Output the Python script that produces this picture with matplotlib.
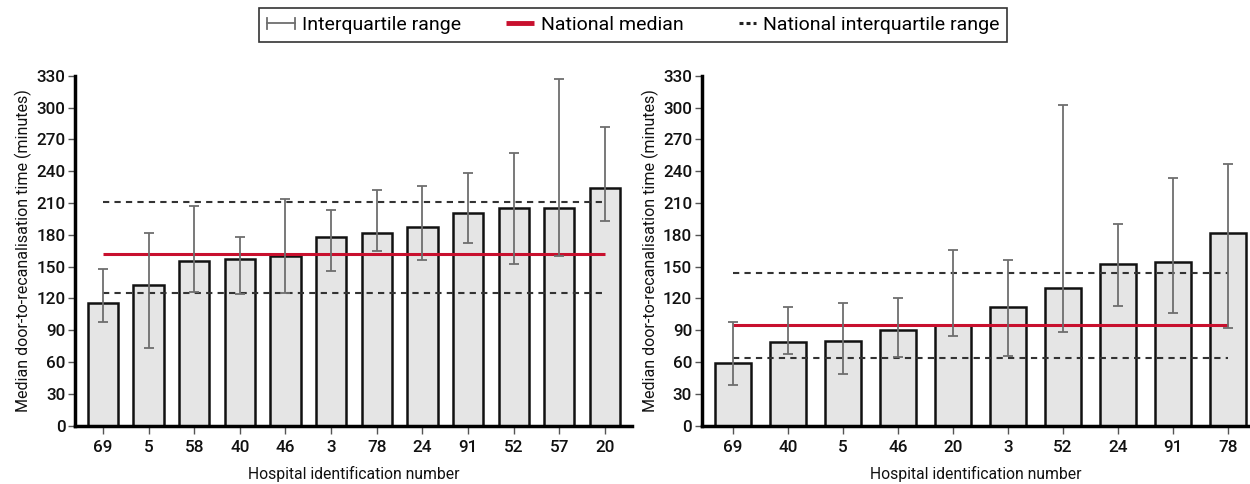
import matplotlib
matplotlib.use("Agg")
import matplotlib.pyplot as plt
from matplotlib.lines import Line2D
from matplotlib.legend_handler import HandlerBase
import numpy as np

plt.rcParams['font.family'] = ['Roboto', 'DejaVu Sans']

# Left panel
left_ids = ["69", "5", "58", "40", "46", "3", "78", "24", "91", "52", "57", "20"]
left_median = [116, 133, 155, 157, 160, 178, 182, 187, 201, 205, 205, 224]
left_q1 = [98, 73, 126, 124, 125, 146, 165, 156, 172, 152, 160, 193]
left_q3 = [148, 182, 207, 178, 214, 203, 222, 226, 238, 257, 327, 282]
left_nat_median = 162
left_nat_q1 = 125
left_nat_q3 = 211

# Right panel
right_ids = ["69", "40", "5", "46", "20", "3", "52", "24", "91", "78"]
right_median = [59, 79, 80, 90, 95, 112, 130, 152, 154, 182]
right_q1 = [38, 68, 49, 65, 85, 66, 88, 113, 106, 92]
right_q3 = [98, 112, 116, 120, 166, 156, 302, 190, 234, 247]
right_nat_median = 95
right_nat_q1 = 64
right_nat_q3 = 144

yticks = list(range(0, 331, 30))

RED = "#c8102e"
ERR = "#6e6e6e"
BARFILL = "#e5e5e5"

fig = plt.figure(figsize=(12.5, 4.84), dpi=100)
ax1 = fig.add_axes([0.060, 0.1205, 0.4456, 0.7231])
ax2 = fig.add_axes([0.5614, 0.1205, 0.4376, 0.7231])


def draw(ax, ids, med, q1, q3, nm, nq1, nq3, xlim):
    x = np.arange(len(ids))
    med = np.array(med)
    lo = med - np.array(q1)
    hi = np.array(q3) - med
    ax.bar(x, med, width=0.66, color=BARFILL, edgecolor="#111111", linewidth=1.8, zorder=2)
    ax.errorbar(x, med, yerr=[lo, hi], fmt="none", ecolor=ERR, elinewidth=1.3,
                capsize=3.5, capthick=1.3, zorder=4)
    ax.plot([x[0], x[-1]], [nm, nm], color=RED, lw=2.2, zorder=3, solid_capstyle="butt")
    for v in (nq1, nq3):
        ax.plot([x[0], x[-1]], [v, v], color="#333333", lw=1.5, ls=(0, (3, 2.5)), zorder=3)
    ax.set_xlim(*xlim)
    ax.set_ylim(0, 330)
    ax.set_yticks(yticks)
    ax.set_xticks(x)
    ax.set_xticklabels(ids)
    for s in ("top", "right"):
        ax.spines[s].set_visible(False)
    for s in ("left", "bottom"):
        ax.spines[s].set_linewidth(2.5)
        ax.spines[s].set_color("#000000")
    ax.tick_params(axis="both", colors="#555555", labelcolor="#111111", labelsize=12.3, width=1)
    ax.tick_params(axis="y", length=5, pad=2)
    ax.tick_params(axis="x", length=6, pad=4)
    for lab in ax.get_xticklabels() + ax.get_yticklabels():
        lab.set_fontweight("medium")
    ax.set_xlabel("Hospital identification number", fontsize=11.3, color="#111111", labelpad=8)
    ax.set_ylabel("Median door-to-recanalisation time (minutes)", fontsize=11.5, color="#111111", labelpad=3)


draw(ax1, left_ids, left_median, left_q1, left_q3, left_nat_median, left_nat_q1, left_nat_q3,
     (-0.61, len(left_ids) - 1 + 0.59))
draw(ax2, right_ids, right_median, right_q1, right_q3, right_nat_median, right_nat_q1, right_nat_q3,
     (-0.57, len(right_ids) - 1 + 0.38))


class HandlerIQR(HandlerBase):
    def create_artists(self, legend, orig_handle, xdescent, ydescent, width, height, fontsize, trans):
        y = height / 2 - ydescent
        x0, x1 = -xdescent, -xdescent + width
        line = Line2D([x0, x1], [y, y], color=ERR, lw=1.3, transform=trans)
        c1 = Line2D([x0, x0], [y - 4, y + 4], color=ERR, lw=1.3, transform=trans)
        c2 = Line2D([x1, x1], [y - 4, y + 4], color=ERR, lw=1.3, transform=trans)
        return [line, c1, c2]


class HandlerShort(HandlerBase):
    def __init__(self, frac=1.0, ls="-", **kw):
        super().__init__(**kw)
        self.frac = frac
        self.ls = ls

    def create_artists(self, legend, orig_handle, xdescent, ydescent, width, height, fontsize, trans):
        y = height / 2 - ydescent
        w = width * self.frac
        x1 = -xdescent + width
        x0 = x1 - w
        ln = Line2D([x0, x1], [y, y], color=orig_handle.get_color(), lw=orig_handle.get_linewidth(),
                    ls=self.ls, transform=trans, solid_capstyle="butt", dash_capstyle="butt")
        return [ln]


h_err = Line2D([], [], color=ERR, lw=1.3)
h_red = Line2D([], [], color=RED, lw=3.5)
h_dash = Line2D([], [], color="#222222", lw=2.2)

leg = fig.legend([h_err, h_red, h_dash],
                 ["Interquartile range", "National median", "National interquartile range"],
                 handler_map={h_err: HandlerIQR(), h_red: HandlerShort(1.0),
                              h_dash: HandlerShort(0.6, ls=(0, (1.3, 1.0)))},
                 loc="center", bbox_to_anchor=(0.5066, 0.9483), ncol=3, frameon=True,
                 fontsize=14, handlelength=1.45, handletextpad=0.35, columnspacing=2.3,
                 borderpad=0.4, fancybox=False, edgecolor="#000000")
leg.get_frame().set_linewidth(1.2)

fig.savefig("out.png", dpi=100)
